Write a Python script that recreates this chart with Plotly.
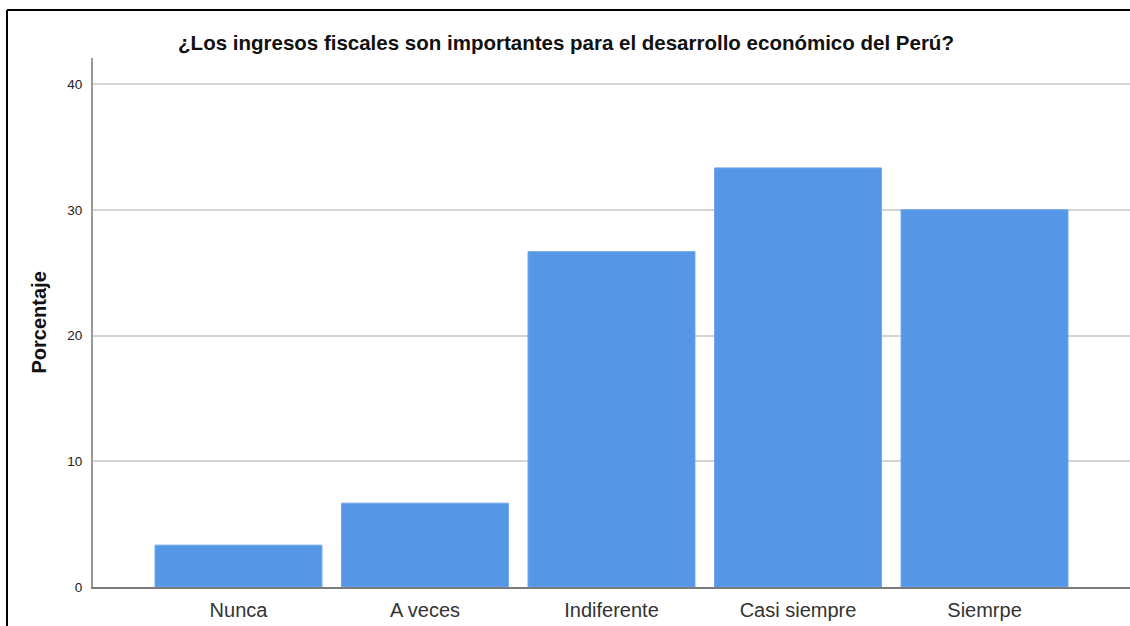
import plotly.graph_objects as go

categories = ["Nunca", "A veces", "Indiferente", "Casi siempre", "Siempre"]
porcentaje = [3.33, 6.67, 26.67, 33.33, 30.0]
tick_vals = [0, 10, 20, 30, 40]
cat_labels = ["Nunca", "A veces", "Indiferente", "Casi siempre", "Siemrpe"]

W, H = 1130, 626
L, R, T, B = 93, 0, 58, 39
pw, ph = W - L - R, H - T - B

fig = go.Figure(go.Bar(
    x=categories, y=porcentaje,
    marker=dict(color="#5596e6", line=dict(color="#6ea6ec", width=1)),
    width=0.895,
))

fig.update_layout(
    width=W, height=H,
    margin=dict(l=L, r=R, t=T, b=B),
    paper_bgcolor="white", plot_bgcolor="white",
    font=dict(family="Liberation Sans, Arial, sans-serif", color="#222"),
    showlegend=False,
    title=dict(text="<b>¿Los ingresos fiscales son importantes para el desarrollo económico del Perú?</b>",
               x=566 / W, xanchor="center", y=1 - 43 / H, yanchor="middle", yref="container",
               font=dict(size=20.5, color="#111")),
    xaxis=dict(range=[-0.78, 4.78], tickvals=categories, ticktext=cat_labels,
               showgrid=False, showline=True, linecolor="#7a7a7a", linewidth=1.5,
               ticks="", tickfont=dict(size=20, color="#333"), zeroline=False,
               ticklabelstandoff=4),
    yaxis=dict(range=[0, 42.07], tickvals=tick_vals, showgrid=True, gridcolor="#d4d4d4", gridwidth=2,
               showline=True, linecolor="#999", linewidth=2, ticks="",
               tickfont=dict(size=13.5, color="#222"), zeroline=False, ticklabelstandoff=6),
    annotations=[dict(text="<b>Porcentaje</b>", textangle=-90, x=(38 - L) / pw, y=0.5,
                      xref="paper", yref="paper", showarrow=False, font=dict(size=20, color="#111"),
                      xanchor="center", yanchor="middle")],
    shapes=[
        dict(type="line", xref="paper", yref="paper", x0=(7 - L) / pw, x1=(7 - L) / pw,
             y0=-(B + 5) / ph, y1=1 + (T - 10) / ph, line=dict(color="black", width=2)),
        dict(type="line", xref="paper", yref="paper", x0=(7 - L) / pw, x1=1.05,
             y0=1 + (T - 10) / ph, y1=1 + (T - 10) / ph, line=dict(color="black", width=2)),
    ],
)

fig.write_html("out.html")
